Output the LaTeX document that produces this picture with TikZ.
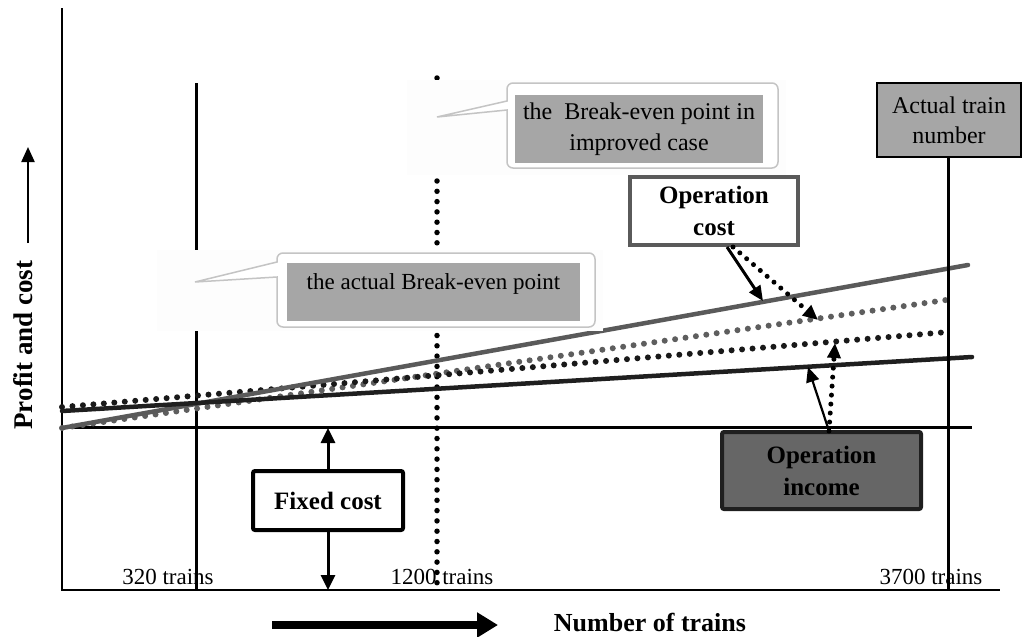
\documentclass[tikz,border=0pt]{standalone}
\usepackage{fontspec}
\setmainfont{Liberation Serif}
\usetikzlibrary{arrows.meta}
\definecolor{boxgray}{HTML}{A6A6A6}
\definecolor{linegray}{HTML}{5A5A5A}
\definecolor{dotgray}{HTML}{5E5E5E}
\definecolor{incgray}{HTML}{666666}
\definecolor{callgray}{HTML}{C4C4C4}
\definecolor{bggray}{HTML}{FDFDFD}
\begin{document}
\begin{tikzpicture}[x=1pt,y=-1pt,
  reg/.style={font=\fontsize{23}{30}\selectfont},
  bld/.style={font=\fontsize{25}{32}\selectfont\bfseries},
  dotline/.style={line width=6, dash pattern=on 0pt off 10.5pt, line cap=round},
  vdots/.style={line width=5.5, dash pattern=on 0pt off 10.3pt, line cap=round},
  adots/.style={line width=5, dash pattern=on 0pt off 9pt, line cap=round},
  tip/.style={-{Triangle[length=15,width=13]}},
  calloutline/.style={draw=callgray, line width=1.5, fill=white},
  fillbox/.style={fill=boxgray, inner sep=0pt, align=center},
]
\useasboundingbox (0,0) rectangle (1034,637);

% axes
\coordinate (yTop) at (62,8);
\coordinate (origin) at (62,590);
\coordinate (xEnd) at (1000,590);
\draw[line width=2] (yTop) -- (origin) -- (xEnd);
% fixed cost level
\coordinate (fL) at (62,427);
\coordinate (fR) at (972,427);
\draw[line width=3] (fL) -- (fR);
% vertical lines
\coordinate (v1t) at (196,83);
\coordinate (v1b) at (196,590);
\draw[line width=3] (v1t) -- (v1b);
\coordinate (v2t) at (437,78);
\coordinate (v2b) at (437,590);
\draw[vdots] (v2t) -- (v2b);

% lines
\coordinate (costA0) at (62,428);
\coordinate (costA1) at (968,265);
\coordinate (incA0) at (62,411);
\coordinate (incA1) at (972,357);
\coordinate (costB0) at (62,428);
\coordinate (costB1) at (946,300);
\coordinate (incB0) at (62,407);
\coordinate (incB1) at (948,332);
\draw[dotline, draw=dotgray] (costB0) -- (costB1);
\draw[dotline, draw=black!90] (incB0) -- (incB1);
\draw[line width=4.5, draw=linegray, line cap=round] (costA0) -- (costA1);
\draw[line width=4.5, draw=black!88, line cap=round] (incA0) -- (incA1);

% callout backgrounds
\fill[bggray] (157,250) rectangle (603,331);
\fill[bggray] (407,80) rectangle (786,175);

% callout 1
\draw[calloutline] (277,262) -- (195,282) -- (277,277) [rounded corners=6] -- (277,327) -- (595,327) -- (595,253) -- (277,253) [sharp corners] -- cycle;
\node[fillbox, reg, anchor=north, minimum width=293, text height=26, text depth=32] (cb1) at (433.5,263) {the actual Break-even point};

% callout 2
\draw[calloutline] (507,101) -- (437,117) -- (507,110) [rounded corners=6] -- (507,168) -- (778,168) -- (778,83) -- (507,83) [sharp corners] -- cycle;
\node[fillbox, font=\fontsize{24}{31}\selectfont, minimum width=248, minimum height=68] (cb2) at (639,129) {the\ \ Break-even point in\\improved case};

% actual train number
\node[fill=boxgray, draw=black, line width=1.2, font=\fontsize{24}{30}\selectfont, align=center, minimum width=144, minimum height=74, inner sep=0pt] (atn) at (949,120) {Actual train\\number};
\coordinate (v3b) at (948,590);
\draw[line width=3] (atn.south -| v3b) -- (v3b);

% boxes
\node[draw=linegray, line width=4, fill=white, bld, align=center, minimum width=168, minimum height=68, inner sep=0pt] (oc) at (714,211) {Operation\\cost};
\node[draw=black!88, line width=4, fill=incgray, rounded corners=2, bld, align=center, minimum width=199, minimum height=77, inner sep=0pt] (oi) at (821.5,470.5) {Operation\\income};
\node[draw=black, line width=4, fill=white, rounded corners=2, bld, minimum width=150, minimum height=59, inner sep=0pt] (fc) at (328,500.5) {Fixed cost};

% arrows from operation cost
\coordinate (ocA) at (763,301);
\coordinate (ocB) at (818,320);
\draw[line width=3, tip] (727,247) -- (ocA);
\draw[adots, tip] (733,247) -- (ocB);

% arrows from operation income
\coordinate (oiA) at (808,367);
\coordinate (oiB) at (835,343);
\draw[line width=2.2, tip] (829,431) -- (oiA);
\draw[adots, tip] (829,431) -- (oiB);

% fixed cost arrows
\coordinate (fcT) at (328,428);
\coordinate (fcB) at (328,590);
\draw[line width=3, -{Triangle[length=15,width=14]}] (fc.north) -- (fcT);
\draw[line width=3, -{Triangle[length=15,width=14]}] (fc.south) -- (fcB);

% x labels
\node[reg] (t320) at (168,577) {320 trains};
\node[reg] (t1200) at (442,577) {1200 trains};
\node[reg] (t3700) at (931,577) {3700 trains};

% y label and arrow
\node[font=\fontsize{27}{32}\selectfont\bfseries, rotate=90] (ylab) at (23,345) {Profit and cost};
\coordinate (yaS) at (28,243);
\coordinate (yaE) at (28,147);
\draw[line width=2.2, -{Triangle[length=15,width=13]}] (yaS) -- (yaE);

% x label and arrow
\node[font=\fontsize{26}{32}\selectfont\bfseries] (xlab) at (650,622) {Number of trains};
\coordinate (xaS) at (272,625);
\coordinate (xaE) at (498,625);
\draw[line width=8, -{Triangle[length=21,width=24]}] (xaS) -- (xaE);
\end{tikzpicture}
\end{document}
